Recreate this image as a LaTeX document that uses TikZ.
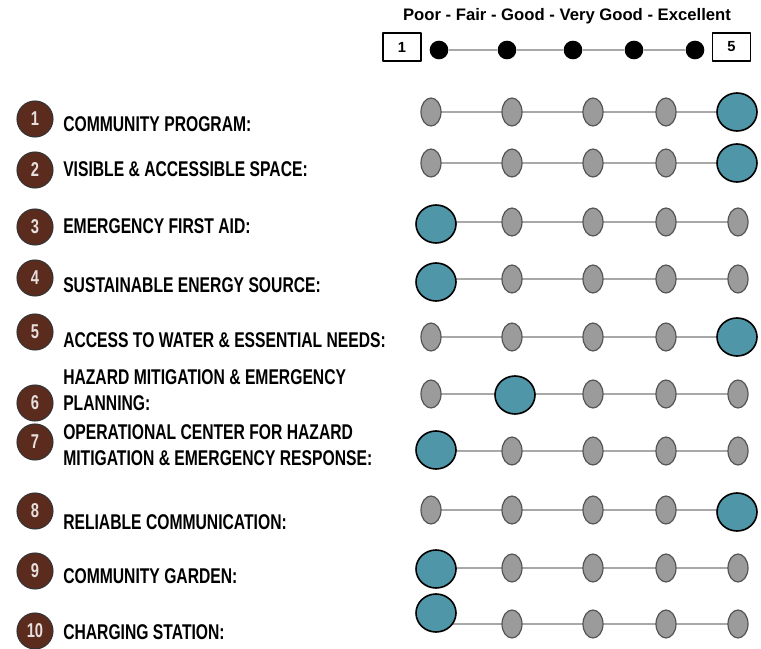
\documentclass[tikz,border=0pt]{standalone}
\usepackage{fontspec}
\setmainfont{Liberation Sans}
\newfontfamily\narrowfont[FakeStretch=0.735]{Liberation Sans}
\usetikzlibrary{shapes.geometric,backgrounds}

\definecolor{brownbg}{HTML}{5B2C1E}
\definecolor{tealfill}{HTML}{4E96A8}
\definecolor{dotgray}{HTML}{9B9B9B}
\definecolor{dotedge}{HTML}{555555}
\definecolor{trackgray}{HTML}{A8A8A8}

\tikzset{
  dot/.style={ellipse, draw=dotedge, fill=dotgray, line width=0.9pt, minimum width=15pt, minimum height=21pt, inner sep=0pt},
  pick/.style={ellipse, draw=black, fill=tealfill, line width=1.2pt, minimum width=30pt, minimum height=28.5pt, inner sep=0pt},
  track/.style={trackgray, line width=1.3pt},
  keydot/.style={circle, fill=black, minimum size=14pt, inner sep=0pt},
  keybox/.style={draw=black, line width=0.8pt, minimum width=28.5pt, minimum height=21pt, inner sep=0pt, font=\bfseries\fontsize{11}{13}\selectfont},
  badge/.style={circle, draw=black!80, fill=brownbg, line width=0.8pt, minimum size=27pt, inner sep=0pt, text=white!85!brownbg, font=\narrowfont\bfseries\fontsize{15}{17}\selectfont},
  itemlabel/.style={anchor=west, align=left, inner sep=0pt, font=\narrowfont\bfseries\fontsize{16}{19.5}\selectfont},
}

\begin{document}
\begin{tikzpicture}[line cap=round, line join=round, x=0.75pt, y=-0.75pt]

            \useasboundingbox (0,0) rectangle (761,649);

            % rating key
            \node[font=\bfseries\fontsize{12.5}{15}\selectfont] (scale) at (567,16) {Poor - Fair - Good - Very Good - Excellent};
            \node[keybox] (lo) at (402,47) {1};
            \node[keybox] (hi) at (731.5,47) {5};
            \foreach \k/\xx in {1/439,2/507,3/573,4/634,5/695}
                \node[keydot] (k\k) at (\xx,50) {};
            \begin{scope}[on background layer]
                \foreach \k [count=\n from 2] in {1,...,4}
                    \draw[track, line width=0.8pt] (k\k) -- (k\n);
            \end{scope}

            % numbered items
            \foreach \r/\cy/\ty/\txt in {1/119/124/{COMMUNITY PROGRAM:},
                    2/170/169/{VISIBLE \& ACCESSIBLE SPACE:},
                    3/227/226/{EMERGENCY FIRST AID:},
                    4/278/285/{SUSTAINABLE ENERGY SOURCE:},
                    5/332/340/{ACCESS TO WATER \& ESSENTIAL NEEDS:},
                    6/403/390/{HAZARD MITIGATION \& EMERGENCY\\PLANNING:},
                    7/442/445/{OPERATIONAL CENTER FOR HAZARD\\MITIGATION \& EMERGENCY RESPONSE:},
                    8/511/522/{RELIABLE COMMUNICATION:},
                    9/571/576/{COMMUNITY GARDEN:},
                    10/631/632/{CHARGING STATION:}}{
                \node[badge] (b\r) at (35,\cy) {\r};
                \node[itemlabel] (t\r) at (63,\ty) {\txt};
            }

            % rating rows
            \foreach \r/\yy/\s/\sx/\dy in {1/112/5/737/0, 2/163/5/737/0, 3/222/1/436/2,
                    4/279/1/436/3, 5/337/5/737/0, 6/394/2/515/1, 7/451/1/436/-1,
                    8/510/5/737/2, 9/568/1/436/1, 10/624/1/436/-11}{
                \foreach \k/\xx in {1/431,2/512,3/593,4/666,5/738}{
                    \ifnum\k=\s
                        \node[pick] (r\r c\k) at (\sx,\yy+\dy) {};
                    \else
                        \node[dot] (r\r c\k) at (\xx,\yy) {};
                    \fi
                }
                \begin{scope}[on background layer]
                    \foreach \k [count=\n from 2] in {1,...,4}
                        \draw[track] (r\r c\k |- r\r c3) -- (r\r c\n |- r\r c3);
                \end{scope}
            }

\end{tikzpicture}
\end{document}
